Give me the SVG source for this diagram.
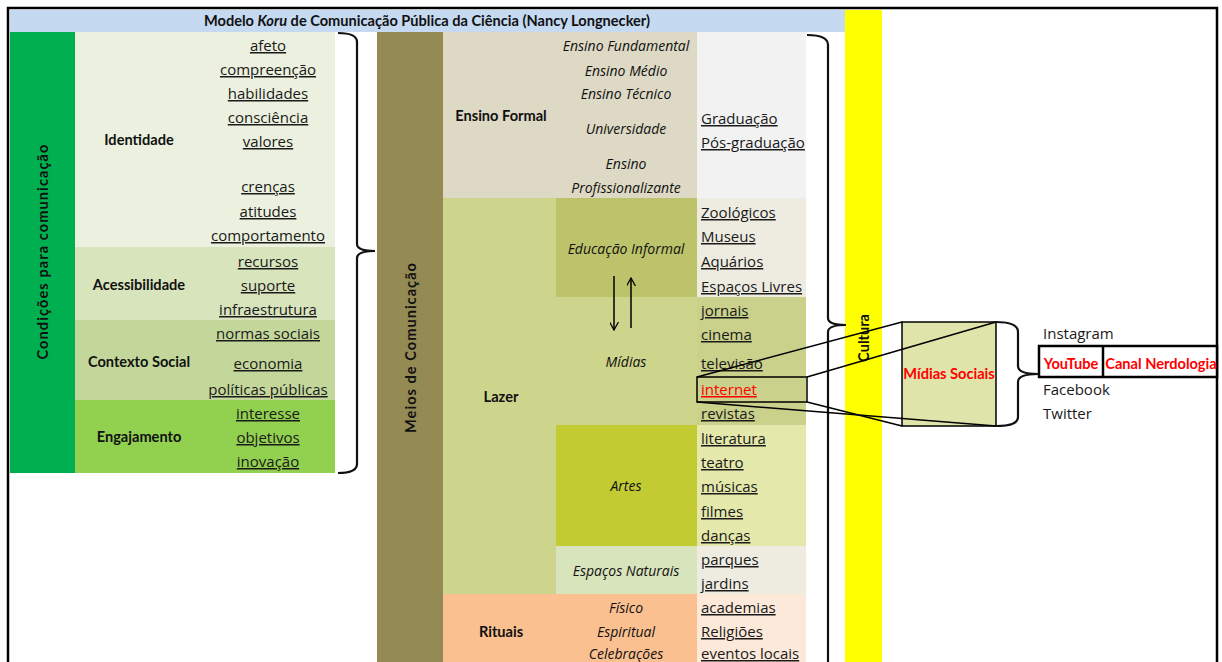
<svg xmlns="http://www.w3.org/2000/svg" width="1222" height="662" viewBox="0 0 1222 662">
<style>
.b{font-family:Lato,"Open Sans",sans-serif;font-weight:bold;font-size:14.6px;fill:#111}
.it{font-family:"Open Sans",sans-serif;font-style:italic;font-size:14px;fill:#111;text-anchor:middle}
.u{font-family:"Open Sans",sans-serif;font-size:15px;fill:#1a1a1a;text-decoration:underline}
.c{text-anchor:middle}
.r{font-family:"Open Sans",sans-serif;font-size:15px;fill:#1a1a1a}
.red{fill:#ff0000}
.ln{fill:none;stroke:#000;stroke-width:1.5}
.br{fill:none;stroke:#111;stroke-width:2.2}
</style>
<defs>
<marker id="ah" viewBox="0 0 10 10" refX="9" refY="5" markerWidth="9" markerHeight="9" orient="auto" markerUnits="userSpaceOnUse">
<path d="M0,0 L9,5 L0,10" fill="none" stroke="#000" stroke-width="1.4"/>
</marker>
</defs>
<rect width="1222" height="662" fill="#fff"/>
<rect x="8" y="8" width="1209" height="680" fill="none" stroke="#000" stroke-width="2.5"/>

<g id="header">
<rect x="10" y="10" width="835" height="22" fill="#C5D9F1"/>
<text class="b c" font-size="15" x="427" y="26">Modelo <tspan font-style="italic">Koru</tspan>  de Comunicação Pública da Ciência (Nancy Longnecker)</text>
</g>

<g id="cultura">
<rect x="845" y="10" width="37" height="660" fill="#FFFF00"/>
<text class="b c" font-size="15.5" transform="translate(869,338) rotate(-90)">Cultura</text>
</g>

<g id="condicoes">
<rect x="10" y="32" width="65" height="441" fill="#00B050"/>
<text class="b c" font-size="17" textLength="215" lengthAdjust="spacing" transform="translate(48,252) rotate(-90)">Condições  para comunicação</text>
</g>

<g id="identidade">
<rect x="75" y="32" width="260" height="215" fill="#EBF1DE"/>
<text class="b c" x="139" y="145">Identidade</text>
<text class="u c" x="268" y="51">afeto</text>
<text class="u c" x="268" y="75">compreenção</text>
<text class="u c" x="268" y="99">habilidades</text>
<text class="u c" x="268" y="123">consciência</text>
<text class="u c" x="268" y="147">valores</text>
<text class="u c" x="268" y="192">crenças</text>
<text class="u c" x="268" y="217">atitudes</text>
<text class="u c" x="268" y="241">comportamento</text>
</g>
<g id="acessibilidade">
<rect x="75" y="247" width="260" height="73" fill="#D8E4BC"/>
<text class="b c" x="139" y="290">Acessibilidade</text>
<text class="u c" x="268" y="267">recursos</text>
<text class="u c" x="268" y="291">suporte</text>
<text class="u c" x="268" y="315">infraestrutura</text>
</g>
<g id="contexto">
<rect x="75" y="320" width="260" height="80" fill="#C4D79B"/>
<text class="b c" x="139" y="367">Contexto Social</text>
<text class="u c" x="268" y="339">normas sociais</text>
<text class="u c" x="268" y="369">economia</text>
<text class="u c" x="268" y="395">políticas públicas</text>
</g>
<g id="engajamento">
<rect x="75" y="400" width="260" height="73" fill="#92D050"/>
<text class="b c" x="139" y="442">Engajamento</text>
<text class="u c" x="268" y="419">interesse</text>
<text class="u c" x="268" y="443">objetivos</text>
<text class="u c" x="268" y="467">inovação</text>
</g>

<g id="meios">
<rect x="377" y="32" width="66" height="640" fill="#948A54"/>
<text class="b c" font-size="17" textLength="170" lengthAdjust="spacing" transform="translate(416,348) rotate(-90)">Meios de Comunicação</text>
</g>

<g id="ensino-formal">
<rect x="443" y="32" width="254" height="166" fill="#DDD9C4"/>
<rect x="697" y="32" width="109" height="166" fill="#F2F2F2"/>
<text class="b c" x="501" y="121">Ensino Formal</text>
<text class="it" x="626" y="51">Ensino Fundamental</text>
<text class="it" x="626" y="76">Ensino Médio</text>
<text class="it" x="626" y="99">Ensino Técnico</text>
<text class="it" x="626" y="134">Universidade</text>
<text class="it" x="626" y="169">Ensino</text>
<text class="it" x="626" y="193">Profissionalizante</text>
<text class="u" x="701" y="124">Graduação</text>
<text class="u" x="701" y="148">Pós-graduação</text>
</g>

<g id="lazer">
<rect x="443" y="198" width="363" height="396" fill="#CDD48C"/>
<text class="b c" x="501" y="402">Lazer</text>
</g>
<g id="educacao-informal">
<rect x="556" y="198" width="141" height="99" fill="#BDC36A"/>
<rect x="697" y="198" width="109" height="99" fill="#EEECE1"/>
<text class="it" x="626" y="254">Educação Informal</text>
<text class="u" x="701" y="218">Zoológicos</text>
<text class="u" x="701" y="242">Museus</text>
<text class="u" x="701" y="267">Aquários</text>
<text class="u" x="701" y="292">Espaços Livres</text>
</g>
<g id="midias">
<rect x="697" y="297" width="109" height="128" fill="#C9D18B"/>
<text class="it" x="626" y="367">Mídias</text>
<text class="u" x="701" y="316">jornais</text>
<text class="u" x="701" y="340">cinema</text>
<text class="u" x="701" y="369">televisão</text>
<rect x="697" y="377" width="110" height="25" fill="none" stroke="#000" stroke-width="1.5"/>
<text class="u red" x="701" y="395">internet</text>
<text class="u" x="701" y="419">revistas</text>
</g>
<g id="artes">
<rect x="556" y="425" width="141" height="121" fill="#C2CC32"/>
<rect x="697" y="425" width="109" height="121" fill="#E4E8AA"/>
<text class="it" x="626" y="491">Artes</text>
<text class="u" x="701" y="444">literatura</text>
<text class="u" x="701" y="468">teatro</text>
<text class="u" x="701" y="492">músicas</text>
<text class="u" x="701" y="517">filmes</text>
<text class="u" x="701" y="541">danças</text>
</g>
<g id="espacos-naturais">
<rect x="556" y="546" width="141" height="48" fill="#D8E4BC"/>
<rect x="697" y="546" width="109" height="48" fill="#EEECE1"/>
<text class="it" x="626" y="576">Espaços Naturais</text>
<text class="u" x="701" y="565">parques</text>
<text class="u" x="701" y="589">jardins</text>
</g>
<g id="rituais">
<rect x="443" y="594" width="254" height="80" fill="#FAC090"/>
<rect x="697" y="594" width="109" height="80" fill="#FDE9D9"/>
<text class="b c" x="501" y="637">Rituais</text>
<text class="it" x="626" y="613">Físico</text>
<text class="it" x="626" y="637">Espiritual</text>
<text class="it" x="626" y="659">Celebrações</text>
<text class="u" x="701" y="613">academias</text>
<text class="u" x="701" y="637">Religiões</text>
<text class="u" x="701" y="659">eventos locais</text>
</g>

<g id="midias-sociais">
<rect x="902" y="322" width="94" height="104" fill="#DFE4AA" stroke="#000" stroke-width="1.5"/>
<text class="b c red" font-size="15" x="949" y="379">Mídias Sociais</text>
</g>

<g id="redes">
<text class="r" x="1043" y="339">Instagram</text>
<rect x="1039" y="346" width="178" height="31" fill="#fff" stroke="#000" stroke-width="2.5"/>
<line x1="1103" y1="346" x2="1103" y2="377" stroke="#000" stroke-width="2.5"/>
<text class="b c red" font-size="14" x="1071" y="369">YouTube</text>
<text class="b c red" font-size="14" x="1161" y="369">Canal Nerdologia</text>
<text class="r" x="1043" y="395">Facebook</text>
<text class="r" x="1043" y="419">Twitter</text>
</g>

<g id="connectors">
<path class="br" d="M338,33 Q357,33 357,42 L357,244 Q357,251 375,251 Q357,251 357,258 L357,464 Q357,473 338,473"/>
<path class="br" stroke="#444" d="M807,35 Q828,35 828,45 L828,318 Q828,325 846,325 Q828,325 828,332 L828,672"/>
<path class="br" stroke="#555" stroke-width="1.4" d="M996,322 Q1018,322 1018,332 L1018,366 Q1018,374 1038,374 Q1018,374 1018,382 L1018,417 Q1018,426 996,426"/>
<line class="ln" x1="697" y1="377" x2="902" y2="322"/>
<line class="ln" x1="807" y1="377" x2="996" y2="322"/>
<line class="ln" x1="807" y1="402" x2="902" y2="426"/>
<line class="ln" x1="697" y1="402" x2="996" y2="426"/>
<line class="ln" x1="614" y1="276" x2="614" y2="330" marker-end="url(#ah)"/>
<line class="ln" x1="631" y1="328" x2="631" y2="278" marker-end="url(#ah)"/>
</g>
</svg>
